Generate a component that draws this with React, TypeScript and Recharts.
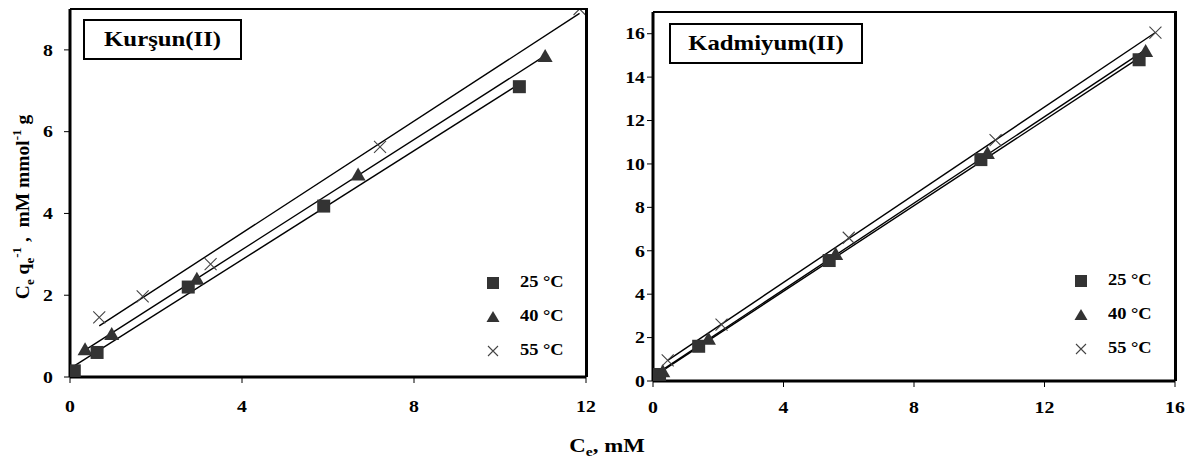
import React from "react"
import { ScatterChart, Scatter, XAxis, YAxis, ReferenceLine } from "recharts"

// Kurşun(II) - Ce (mM) vs Ce/qe
const pbX25 = [0.1, 0.63, 2.75, 5.9, 10.45]
const pbY25 = [0.15, 0.6, 2.2, 4.18, 7.1]
const pbX40 = [0.35, 0.97, 2.95, 6.7, 11.05]
const pbY40 = [0.68, 1.05, 2.4, 4.95, 7.85]
const pbX55 = [0.68, 1.69, 3.27, 7.21, 11.85]
const pbY55 = [1.46, 1.97, 2.76, 5.63, 9.0]

// Kadmiyum(II)
const cdX25 = [0.2, 1.4, 5.4, 10.05, 14.9]
const cdY25 = [0.3, 1.6, 5.55, 10.2, 14.8]
const cdX40 = [0.3, 1.7, 5.6, 10.25, 15.1]
const cdY40 = [0.45, 1.95, 5.85, 10.5, 15.2]
const cdX55 = [0.45, 2.1, 6.0, 10.5, 15.4]
const cdY55 = [0.95, 2.6, 6.6, 11.1, 16.05]

const pbXTicks = [0, 4, 8, 12]
const pbYTicks = [0, 2, 4, 6, 8]
const cdXTicks = [0, 4, 8, 12, 16]
const cdYTicks = [0, 2, 4, 6, 8, 10, 12, 14, 16]

const seriesNames = ["25 °C", "40 °C", "55 °C"]

const SERIF = "'Liberation Serif', 'Times New Roman', serif"

const toPts = (xs: number[], ys: number[]) => xs.map((x, i) => ({ x, y: ys[i] }))

// least squares trendline over the series' x range (like an Excel linear trendline)
function fit(xs: number[], ys: number[]) {
  const n = xs.length
  const mx = xs.reduce((a, b) => a + b, 0) / n
  const my = ys.reduce((a, b) => a + b, 0) / n
  let sxy = 0
  let sxx = 0
  xs.forEach((x, i) => {
    sxy += (x - mx) * (ys[i] - my)
    sxx += (x - mx) * (x - mx)
  })
  const b = sxy / sxx
  const a = my - b * mx
  const x0 = Math.min(...xs)
  const x1 = Math.max(...xs)
  return [{ x: x0, y: a + b * x0 }, { x: x1, y: a + b * x1 }]
}

const Square = (p: any) => (
  <rect x={p.cx - 6.5} y={p.cy - 6.5} width={13} height={13} fill="#333" />
)
const Tri = (p: any) => (
  <polygon points={`${p.cx},${p.cy - 7} ${p.cx + 7.5},${p.cy + 6} ${p.cx - 7.5},${p.cy + 6}`} fill="#333" />
)
const Cross = (p: any) => (
  <path
    d={`M${p.cx - 6},${p.cy - 6}L${p.cx + 6},${p.cy + 6}M${p.cx + 6},${p.cy - 6}L${p.cx - 6},${p.cy + 6}`}
    stroke="#444"
    strokeWidth={1.1}
    fill="none"
  />
)
const shapes = [Square, Tri, Cross]

const yTick = (p: any) => (
  <g transform={`translate(${p.x},${p.y})`}>
    <text textAnchor="end" dy="0.35em" transform="scale(1.2,1)" fontSize={16.5} fontWeight="bold" fontFamily={SERIF} fill="#000">
      {p.payload.value}
    </text>
  </g>
)
const xTick = (p: any) => (
  <g transform={`translate(${p.x},${p.y})`}>
    <text textAnchor="middle" dy="0.71em" transform="scale(1.2,1)" fontSize={16.5} fontWeight="bold" fontFamily={SERIF} fill="#000">
      {p.payload.value}
    </text>
  </g>
)

function Legend({ left, top }: { left: number; top: number }) {
  return (
    <div style={{ position: "absolute", left, top }}>
      {seriesNames.map((name, i) => (
        <div key={name} style={{ position: "absolute", left: 0, top: i * 34, width: 90, height: 20 }}>
          <svg width={16} height={16} style={{ position: "absolute", left: -8, top: -8 }}>
            {i === 0 && <rect x={2} y={2} width={12} height={12} fill="#333" />}
            {i === 1 && <polygon points="8,2 14.5,13 1.5,13" fill="#333" />}
            {i === 2 && <path d="M3,3L13,13M13,3L3,13" stroke="#444" strokeWidth={1.1} />}
          </svg>
          <span
            style={{
              position: "absolute",
              left: 27,
              top: -10,
              fontFamily: SERIF,
              fontWeight: "bold",
              fontSize: 16,
              whiteSpace: "nowrap",
              transform: "scaleX(1.15)",
              transformOrigin: "left center",
            }}
          >
            {name}
          </span>
        </div>
      ))}
    </div>
  )
}

type PanelProps = {
  left: number
  width: number
  height: number
  margin: { top: number; right: number; left: number; bottom: number }
  yAxisWidth: number
  xAxisHeight: number
  yTickMargin: number
  xTickMargin: number
  xMax: number
  yMax: number
  xTicks: number[]
  yTicks: number[]
  xs: number[][]
  ys: number[][]
  title: string
  titleBox: { left: number; top: number; width: number; height: number }
  legend: { left: number; top: number }
}

function Panel(props: PanelProps) {
  const { margin, yAxisWidth, xAxisHeight, width, height } = props
  const plotLeft = margin.left + yAxisWidth
  const plotTop = margin.top
  const plotW = width - plotLeft - margin.right
  const plotH = height - margin.top - margin.bottom - xAxisHeight
  return (
    <div style={{ position: "absolute", left: props.left, top: 0, width, height }}>
      <ScatterChart width={width} height={height} margin={margin} style={{ overflow: "visible" }}>
        <XAxis
          type="number"
          dataKey="x"
          domain={[0, props.xMax]}
          ticks={props.xTicks}
          height={xAxisHeight}
          axisLine={{ stroke: "#000", strokeWidth: 3 }}
          tickLine={{ stroke: "#000", strokeWidth: 1 }}
          tickSize={6}
          tickMargin={props.xTickMargin}
          tick={xTick}
          allowDataOverflow
        />
        <YAxis
          type="number"
          dataKey="y"
          domain={[0, props.yMax]}
          ticks={props.yTicks}
          width={yAxisWidth}
          axisLine={{ stroke: "#000", strokeWidth: 3 }}
          tickLine={{ stroke: "#000", strokeWidth: 1 }}
          tickSize={6}
          tickMargin={props.yTickMargin}
          tick={yTick}
          allowDataOverflow
        />
        {props.xs.map((xs, i) => (
          <Scatter
            key={seriesNames[i]}
            name={seriesNames[i]}
            data={toPts(xs, props.ys[i])}
            shape={shapes[i]}
            isAnimationActive={false}
          />
        ))}
        {props.xs.map((xs, i) => (
          <ReferenceLine
            key={"fit" + i}
            segment={fit(xs, props.ys[i])}
            stroke="#000"
            strokeWidth={1.4}
            ifOverflow="visible"
          />
        ))}
      </ScatterChart>
      <div
        style={{
          position: "absolute",
          left: plotLeft,
          top: plotTop - 1,
          width: plotW + 1.5,
          height: plotH + 1,
          borderTop: "2.5px solid #000",
          borderRight: "3px solid #000",
          boxSizing: "border-box",
          pointerEvents: "none",
        }}
      />
      <div
        style={{
          position: "absolute",
          left: props.titleBox.left,
          top: props.titleBox.top,
          width: props.titleBox.width,
          height: props.titleBox.height,
          border: "2.5px solid #000",
          boxSizing: "border-box",
          background: "#fff",
          display: "flex",
          alignItems: "center",
          justifyContent: "center",
        }}
      >
        <span
          style={{
            fontFamily: SERIF,
            fontWeight: "bold",
            fontSize: 21,
            whiteSpace: "nowrap",
            transform: "scaleX(1.18)",
          }}
        >
          {props.title}
        </span>
      </div>
      <Legend left={props.legend.left} top={props.legend.top} />
    </div>
  )
}

export default function App() {
  return (
    <div style={{ position: "absolute", left: 0, top: 0, width: 1198, height: 464, background: "#fff", overflow: "hidden" }}>
      <Panel
        left={0}
        width={600}
        height={432}
        margin={{ top: 9, right: 14, left: 0, bottom: 22 }}
        yAxisWidth={70}
        xAxisHeight={33}
        yTickMargin={11}
        xTickMargin={17}
        xMax={12}
        yMax={9}
        xTicks={pbXTicks}
        yTicks={pbYTicks}
        xs={[pbX25, pbX40, pbX55]}
        ys={[pbY25, pbY40, pbY55]}
        title="Kurşun(II)"
        titleBox={{ left: 83, top: 19, width: 159, height: 41 }}
        legend={{ left: 493, top: 283 }}
      />
      <Panel
        left={590}
        width={600}
        height={432}
        margin={{ top: 12, right: 15, left: 0, bottom: 22 }}
        yAxisWidth={63}
        xAxisHeight={29}
        yTickMargin={2}
        xTickMargin={14}
        xMax={16}
        yMax={17}
        xTicks={cdXTicks}
        yTicks={cdYTicks}
        xs={[cdX25, cdX40, cdX55]}
        ys={[cdY25, cdY40, cdY55]}
        title="Kadmiyum(II)"
        titleBox={{ left: 79, top: 23, width: 194, height: 41 }}
        legend={{ left: 491, top: 281 }}
      />
      <div
        style={{
          position: "absolute",
          left: 23,
          top: 207,
          transform: "translate(-50%, -50%) rotate(-90deg)",
          fontFamily: SERIF,
          fontWeight: "bold",
          fontSize: 19.5,
          whiteSpace: "pre",
          lineHeight: 1,
        }}
      >
        C<sub style={{ fontSize: 13 }}>e</sub> q<sub style={{ fontSize: 13 }}>e</sub>
        <sup style={{ fontSize: 13 }}>-1</sup>{" ,  mM mmol"}<sup style={{ fontSize: 13 }}>-1</sup>{" g"}
      </div>
      <div
        style={{
          position: "absolute",
          left: 607,
          top: 447,
          transform: "translate(-50%, -50%) scaleX(1.2)",
          fontFamily: SERIF,
          fontWeight: "bold",
          fontSize: 19,
          whiteSpace: "nowrap",
          lineHeight: 1,
        }}
      >
        C<sub style={{ fontSize: 13 }}>e</sub>, mM
      </div>
    </div>
  )
}
